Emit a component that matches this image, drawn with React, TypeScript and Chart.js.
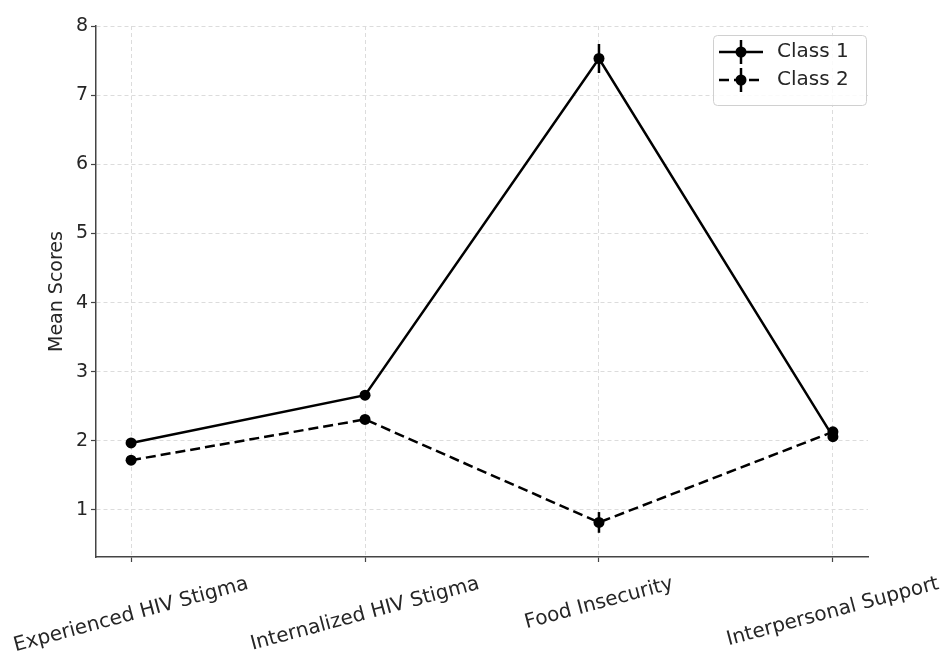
import React, { useEffect, useRef } from "react";
import { Chart, registerables } from "chart.js";

Chart.register(...registerables);

const categories = [
  "Experienced HIV Stigma",
  "Internalized HIV Stigma",
  "Food Insecurity",
  "Interpersonal Support",
];
const class1Values = [1.97, 2.66, 7.53, 2.06];
const class1Errors = [0.04, 0.04, 0.21, 0.04];
const class2Values = [1.72, 2.31, 0.82, 2.13];
const class2Errors = [0.04, 0.04, 0.15, 0.04];
const seriesNames = ["Class 1", "Class 2"];
const yTickValues = [1, 2, 3, 4, 5, 6, 7, 8];
const yTitle = "Mean Scores";

const FONT = "DejaVu Sans";
const FS = 19;
const FSX = 20;

const overlayPlugin = {
  id: "overlay",
  beforeDatasetsDraw(chart: any) {
    const { ctx } = chart;
    const x = chart.scales.x;
    const y = chart.scales.y;
    const sets = [
      [class1Values, class1Errors],
      [class2Values, class2Errors],
    ];
    ctx.save();
    ctx.strokeStyle = "#000";
    ctx.lineWidth = 2.5;
    sets.forEach(([vals, errs]) => {
      vals.forEach((v: number, i: number) => {
        const px = x.getPixelForValue(i);
        ctx.beginPath();
        ctx.moveTo(px, y.getPixelForValue(v - errs[i]));
        ctx.lineTo(px, y.getPixelForValue(v + errs[i]));
        ctx.stroke();
      });
    });
    ctx.restore();
  },
  afterDraw(chart: any) {
    const { ctx } = chart;
    const x = chart.scales.x;
    const area = chart.chartArea;
    ctx.save();
    ctx.fillStyle = "#262626";
    ctx.font = `${FSX}px "${FONT}"`;
    const ang = (15 * Math.PI) / 180;
    const top = area.bottom + 12;
    categories.forEach((lab, i) => {
      const w = ctx.measureText(lab).width;
      const h = FSX * 1.1;
      const bh = w * Math.sin(ang) + h * Math.cos(ang);
      const cx = x.getPixelForValue(i);
      const cy = top + bh / 2 + 4;
      ctx.save();
      ctx.translate(cx, cy);
      ctx.rotate(-ang);
      ctx.textAlign = "center";
      ctx.textBaseline = "middle";
      ctx.fillText(lab, 0, 0);
      ctx.restore();
    });
    ctx.font = `${FS}px "${FONT}"`;
    ctx.save();
    ctx.translate(57, (area.top + area.bottom) / 2);
    ctx.rotate(-Math.PI / 2);
    ctx.textAlign = "center";
    ctx.textBaseline = "middle";
    ctx.fillText(yTitle, 0, 0);
    ctx.restore();
    // legend
    const lx = 713, ly = 35, lw = 153, lh = 70;
    ctx.beginPath();
    ctx.roundRect(lx + 0.5, ly + 0.5, lw, lh, 4);
    ctx.fillStyle = "rgba(255,255,255,0.85)";
    ctx.fill();
    ctx.strokeStyle = "#d0d0d0";
    ctx.lineWidth = 1;
    ctx.stroke();
    ctx.font = `${FSX}px "${FONT}"`;
    seriesNames.forEach((name, i) => {
      const yy = 52 + i * 28;
      ctx.strokeStyle = "#000";
      ctx.lineWidth = 2.5;
      ctx.setLineDash(i === 1 ? [10, 5] : []);
      ctx.beginPath();
      ctx.moveTo(719, yy);
      ctx.lineTo(763, yy);
      ctx.stroke();
      ctx.setLineDash([]);
      ctx.beginPath();
      ctx.moveTo(741, yy - 12);
      ctx.lineTo(741, yy + 12);
      ctx.stroke();
      ctx.beginPath();
      ctx.arc(741, yy, 5.5, 0, Math.PI * 2);
      ctx.fillStyle = "#000";
      ctx.fill();
      ctx.fillStyle = "#262626";
      ctx.textAlign = "left";
      ctx.textBaseline = "middle";
      ctx.fillText(name, 777, yy);
    });
    ctx.restore();
  },
};

export default function App() {
  const ref = useRef<HTMLCanvasElement>(null);
  useEffect(() => {
    document.body.style.margin = "0";
    const c = ref.current;
    if (!c) return;
    const chart = new Chart(c, {
      type: "line",
      data: {
        datasets: [
          {
            label: seriesNames[0],
            data: class1Values.map((v, i) => ({ x: i, y: v })),
            borderColor: "#000",
            backgroundColor: "#000",
            borderWidth: 2.5,
            pointRadius: 5.5,
            pointBackgroundColor: "#000",
            pointBorderWidth: 0,
            tension: 0,
          },
          {
            label: seriesNames[1],
            data: class2Values.map((v, i) => ({ x: i, y: v })),
            borderColor: "#000",
            backgroundColor: "#000",
            borderWidth: 2.5,
            borderDash: [10, 5],
            pointRadius: 5.5,
            pointBackgroundColor: "#000",
            pointBorderWidth: 0,
            tension: 0,
          },
        ],
      },
      options: {
        animation: false,
        responsive: false,
        layout: { padding: { top: 26, right: 75, left: 0, bottom: 0 } },
        plugins: { legend: { display: false }, tooltip: { enabled: false } },
        scales: {
          x: {
            type: "linear",
            min: -0.15,
            max: 3.15,
            afterBuildTicks: (s: any) => {
              s.ticks = categories.map((_, i) => ({ value: i }));
            },
            afterFit: (s: any) => {
              s.height = 106;
            },
            ticks: { display: false },
            grid: {
              color: "#dcdcdc",
              lineWidth: 1,
              tickColor: "#444",
              tickLength: 5,
              tickWidth: 1.2,
              tickBorderDash: [],
            },
            border: { display: true, color: "#444", width: 1.5, dash: [4, 3] },
          },
          y: {
            type: "linear",
            min: 0.32,
            max: 8,
            afterBuildTicks: (s: any) => {
              s.ticks = yTickValues.map((v) => ({ value: v }));
            },
            afterFit: (s: any) => {
              s.width = 96;
            },
            ticks: {
              color: "#262626",
              font: { family: FONT, size: FS },
              padding: 3,
            },
            grid: {
              color: "#dcdcdc",
              lineWidth: 1,
              tickColor: "#444",
              tickLength: 5,
              tickWidth: 1.2,
              tickBorderDash: [],
            },
            border: { display: true, color: "#444", width: 1.5, dash: [4, 3] },
          },
        },
      },
      plugins: [overlayPlugin],
    });
    return () => chart.destroy();
  }, []);
  return (
    <div style={{ width: 943, height: 663, background: "#fff" }}>
      <canvas ref={ref} width={943} height={663} />
    </div>
  );
}
